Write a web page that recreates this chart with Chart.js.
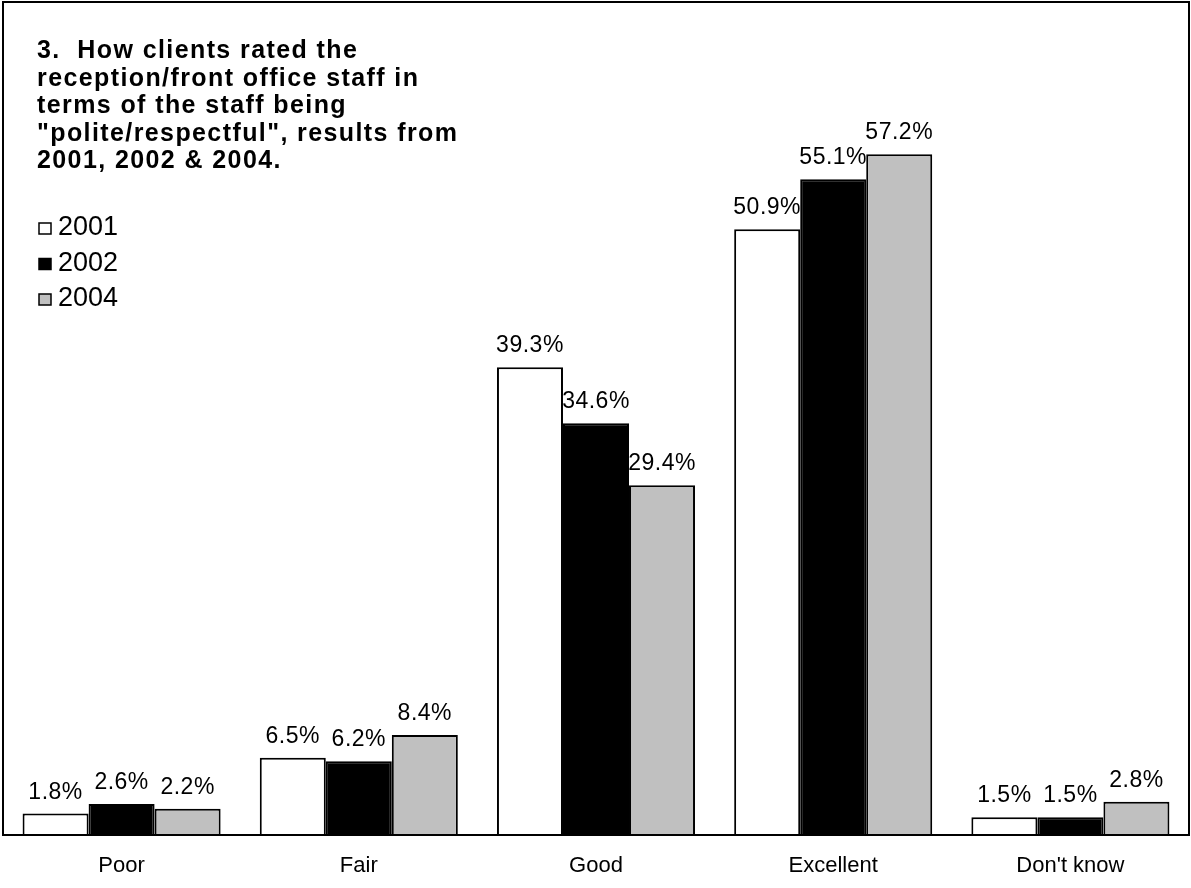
<!DOCTYPE html>
<html lang="en">
<head>
    <meta charset="UTF-8">
    <title>Reception staff politeness ratings</title>
    <script src="https://cdn.jsdelivr.net/npm/chart.js"></script>
    <style>
        body { margin: 0; background: #fff; }
        #wrap { width: 1191px; height: 888px; }
    </style>
</head>
<body>
    <div id="wrap">
        <canvas id="graphic" width="1191" height="888"></canvas>
    </div>

    <script>
        // data
        const categories = ['Poor', 'Fair', 'Good', 'Excellent', "Don't know"];
        const years = ['2001', '2002', '2004'];
        const values2001 = [1.8, 6.5, 39.3, 50.9, 1.5];
        const values2002 = [2.6, 6.2, 34.6, 55.1, 1.5];
        const values2004 = [2.2, 8.4, 29.4, 57.2, 2.8];
        const fills = ['#ffffff', '#000000', '#c0c0c0'];
        const titleLines = [
            '3.  How clients rated the',
            'reception/front office staff in',
            'terms of the staff being',
            '"polite/respectful", results from',
            '2001, 2002 & 2004.'
        ];

        const font = '"Liberation Sans", Arial, sans-serif';

        // frame + title + legend drawn inside the plot area
        const framePlugin = {
            id: 'frame',
            beforeDatasetsDraw(chart) {
                const { ctx } = chart;
                ctx.save();
                // value labels go under the bars, like the original
                ctx.fillStyle = '#000';
                ctx.font = '23px ' + font;
                ctx.letterSpacing = '0.5px';
                ctx.textAlign = 'center';
                ctx.textBaseline = 'alphabetic';
                chart.data.datasets.forEach((ds, i) => {
                    chart.getDatasetMeta(i).data.forEach((bar, j) => {
                        ctx.fillText(ds.data[j].toFixed(1) + '%', bar.x, bar.y - 15);
                    });
                });
                ctx.restore();
            },
            afterDraw(chart) {
                const { ctx, chartArea } = chart;
                ctx.save();
                ctx.strokeStyle = '#000';
                ctx.lineWidth = 2;
                ctx.strokeRect(chartArea.left, chartArea.top, chartArea.right - chartArea.left, chartArea.bottom - chartArea.top);

                ctx.fillStyle = '#000';
                ctx.font = 'bold 25px ' + font;
                ctx.letterSpacing = '1.4px';
                ctx.textAlign = 'left';
                ctx.textBaseline = 'alphabetic';
                titleLines.forEach((line, i) => {
                    ctx.fillText(line, 37, 58 + i * 27.5);
                });
                ctx.letterSpacing = '0px';

                ctx.font = '27px ' + font;
                years.forEach((y, i) => {
                    const base = 235 + i * 35.5;
                    ctx.fillStyle = fills[i];
                    ctx.fillRect(39, base - 12, 12, 11);
                    ctx.strokeStyle = '#000';
                    ctx.lineWidth = 1.5;
                    ctx.strokeRect(39, base - 12, 12, 11);
                    ctx.fillStyle = '#000';
                    ctx.fillText(y, 58, base);
                });
                ctx.restore();
            }
        };

        const ctx = document.getElementById('graphic').getContext('2d');
        new Chart(ctx, {
            type: 'bar',
            data: {
                labels: categories,
                datasets: [values2001, values2002, values2004].map((vals, i) => ({
                    label: years[i],
                    data: vals,
                    backgroundColor: fills[i],
                    borderColor: '#000',
                    borderWidth: 2,
                    borderSkipped: 'bottom',
                    categoryPercentage: 0.835,
                    barPercentage: 1.0
                }))
            },
            options: {
                responsive: false,
                animation: false,
                layout: { padding: { left: 3, right: 2, top: 2, bottom: 0 } },
                plugins: {
                    legend: { display: false },
                    tooltip: { enabled: false }
                },
                scales: {
                    x: {
                        grid: { display: false, drawTicks: false },
                        border: { display: false },
                        ticks: { color: '#000', padding: 20, font: { family: font, size: 22, lineHeight: 1.0 } },
                        afterFit(scale) { scale.height = 53; }
                    },
                    y: {
                        display: false,
                        min: 0,
                        max: 70
                    }
                }
            },
            plugins: [framePlugin]
        });
    </script>
</body>
</html>
